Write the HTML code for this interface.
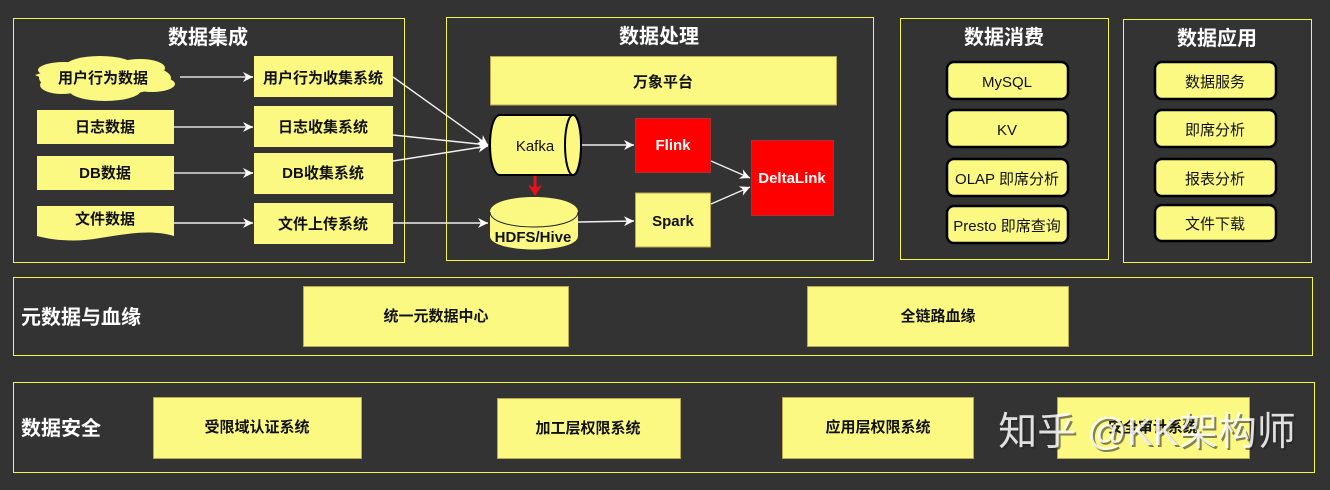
<!DOCTYPE html>
<html><head><meta charset="utf-8"><style>
html,body{margin:0;padding:0;background:#333}
svg{display:block}
text{font-family:"Liberation Sans","Noto Sans CJK SC",sans-serif;text-anchor:middle;fill:#111}
.t{font-size:20px;font-weight:700;fill:#fff}
.b{font-size:15px;font-weight:700}
.s{font-size:15px;font-weight:700}
.n{font-size:15px;font-weight:400}
.p{fill:none;stroke:#f5f54a;stroke-width:1}
.y{fill:#fbf981;stroke:#b9a850;stroke-width:1}
.r{fill:#fbf981;stroke:#000;stroke-width:2.5}
.l{stroke:#f0f0f0;stroke-width:1.4;fill:none;marker-end:url(#a)}
.g{stroke:#b4b4b4;stroke-width:2;fill:none;marker-end:url(#a)}
</style></head><body>
<svg width="1330" height="490" viewBox="0 0 1330 490" xmlns="http://www.w3.org/2000/svg">
<defs>
<marker id="a" markerWidth="11" markerHeight="10" refX="10" refY="5" orient="auto" markerUnits="userSpaceOnUse"><path d="M0 0L10 5L0 10L3 5Z" fill="#fff"/></marker>
</defs>
<rect width="1330" height="490" fill="#333"/>
<rect class="p" x="13.5" y="18.5" width="391" height="244"/>
<rect class="p" x="446.5" y="17.5" width="427" height="243"/>
<rect class="p" x="900.5" y="18.5" width="208" height="241"/>
<rect class="p" x="1123.5" y="19.5" width="188" height="243"/>
<rect class="p" x="13.5" y="277.5" width="1299" height="78"/>
<rect class="p" x="13.5" y="382.5" width="1301" height="90"/>
<text class="t" x="208" y="44">数据集成</text>
<text class="t" x="659" y="43">数据处理</text>
<text class="t" x="1004" y="44">数据消费</text>
<text class="t" x="1217" y="45">数据应用</text>
<text class="t" x="81" y="324">元数据与血缘</text>
<text class="t" x="61" y="435">数据安全</text>

<g fill="#fbf981">
<ellipse cx="105" cy="78" rx="66" ry="17"/>
<ellipse cx="64" cy="70" rx="26" ry="8"/>
<ellipse cx="100" cy="66" rx="34" ry="10"/>
<ellipse cx="140" cy="68" rx="25" ry="9"/>
<ellipse cx="152" cy="84" rx="23" ry="8"/>
<ellipse cx="62" cy="85" rx="22" ry="9"/>
<ellipse cx="105" cy="90" rx="36" ry="11"/>
<path d="M35 75L50 70L50 82Z"/>
</g>
<rect x="37" y="110" width="137" height="34" fill="#fbf981"/>
<rect x="37" y="156" width="137" height="34" fill="#fbf981"/>
<path d="M37 206H174V236C150 229 128 234 100 238C78 242 56 241 37 236Z" fill="#fbf981"/>
<text class="b" x="103" y="83">用户行为数据</text>
<text class="b" x="105" y="132">日志数据</text>
<text class="b" x="105" y="178">DB数据</text>
<text class="b" x="105" y="224">文件数据</text>

<rect x="254" y="56" width="139" height="41" fill="#fbf981"/>
<rect x="254" y="106" width="139" height="41" fill="#fbf981"/>
<rect x="254" y="153" width="139" height="41" fill="#fbf981"/>
<rect x="254" y="203" width="139" height="41" fill="#fbf981"/>
<text class="b" x="323" y="83">用户行为收集系统</text>
<text class="b" x="323" y="132">日志收集系统</text>
<text class="b" x="323" y="178">DB收集系统</text>
<text class="b" x="323" y="229">文件上传系统</text>

<line class="g" x1="180" y1="77" x2="253" y2="77"/>
<line class="g" x1="174" y1="127" x2="253" y2="127"/>
<line class="g" x1="174" y1="173" x2="253" y2="173"/>
<line class="l" x1="174" y1="223" x2="253" y2="223"/>
<line class="l" x1="393" y1="77" x2="488" y2="145"/>
<line class="l" x1="393" y1="135" x2="488" y2="145"/>
<line class="l" x1="393" y1="161" x2="488" y2="146"/>
<line class="l" x1="393" y1="223" x2="488" y2="223"/>

<rect class="y" x="490.5" y="56.5" width="346" height="48.500"/>
<text class="b" x="663" y="87">万象平台</text>

<path d="M500 115H573C578 115 581 128 581 145C581 162 578 175 573 175H500C494 175 490 162 490 145C490 128 494 115 500 115Z" fill="#fbf981" stroke="#000" stroke-width="2"/>
<ellipse cx="573" cy="145" rx="8" ry="30" fill="#fbf981" stroke="#000" stroke-width="2"/>
<text class="n" x="535" y="151">Kafka</text>

<path d="M490 212C490 192 578 192 578 212V236C578 254 490 254 490 236Z" fill="#fbf981"/>
<path d="M490 212C490 232 578 232 578 212" fill="none" stroke="#222" stroke-width="1"/>
<text class="b" x="533" y="242">HDFS/Hive</text>

<path d="M535 176V190" stroke="#e8101a" stroke-width="3"/>
<path d="M528 185L535 196L542 185L535 188Z" fill="#e8101a"/>

<rect x="635.500" y="118.500" width="75" height="54" fill="#f00" stroke="#b03030"/>
<text class="b" x="673" y="150" style="fill:#fff">Flink</text>
<rect class="y" x="635.500" y="193" width="75" height="54"/>
<text class="b" x="673" y="226">Spark</text>
<rect x="751.500" y="140.500" width="82" height="75" fill="#f00" stroke="#b03030"/>
<text class="b" x="792" y="183" style="fill:#fff">DeltaLink</text>

<line class="l" x1="582" y1="145" x2="634" y2="145"/>
<line class="l" x1="578" y1="222" x2="634" y2="221"/>
<line class="l" x1="711" y1="161" x2="750" y2="178"/>
<line class="l" x1="711" y1="204" x2="750" y2="187"/>

<rect class="r" x="947" y="62" width="121" height="37" rx="7"/>
<rect class="r" x="947" y="110" width="121" height="37" rx="7"/>
<rect class="r" x="947" y="159" width="121" height="37" rx="7"/>
<rect class="r" x="947" y="206" width="121" height="37" rx="7"/>
<text class="n" x="1007" y="87">MySQL</text>
<text class="n" x="1007" y="135">KV</text>
<text class="n" x="1007" y="184">OLAP 即席分析</text>
<text class="n" x="1007" y="231">Presto 即席查询</text>

<rect class="r" x="1155" y="62" width="121" height="37" rx="7"/>
<rect class="r" x="1155" y="110" width="121" height="37" rx="7"/>
<rect class="r" x="1155" y="159" width="121" height="37" rx="7"/>
<rect class="r" x="1155" y="205" width="121" height="36" rx="7"/>
<text class="n" x="1215" y="87">数据服务</text>
<text class="n" x="1215" y="135">即席分析</text>
<text class="n" x="1215" y="184">报表分析</text>
<text class="n" x="1215" y="229">文件下载</text>

<rect class="y" x="303.500" y="286.500" width="265" height="60"/>
<rect class="y" x="807.500" y="286.500" width="261" height="60"/>
<text class="s" x="436" y="321">统一元数据中心</text>
<text class="s" x="938" y="321">全链路血缘</text>

<rect class="y" x="153.500" y="397.500" width="208" height="61"/>
<rect class="y" x="497.500" y="398.500" width="183" height="60"/>
<rect class="y" x="782.500" y="397.500" width="191" height="61"/>
<rect class="y" x="1057.500" y="397.500" width="192" height="61"/>
<text class="s" x="257" y="432">受限域认证系统</text>
<text class="s" x="588" y="433">加工层权限系统</text>
<text class="s" x="878" y="432">应用层权限系统</text>
<text class="s" x="1153" y="432">安全审计系统</text>

<text x="1149" y="447" style="font-size:39px;fill:#222;opacity:.55;font-weight:400">知乎 @KK架构师</text>
<text x="1147" y="445" style="font-size:39px;fill:#fff;opacity:.85;font-weight:400">知乎 @KK架构师</text>
</svg>
</body></html>
